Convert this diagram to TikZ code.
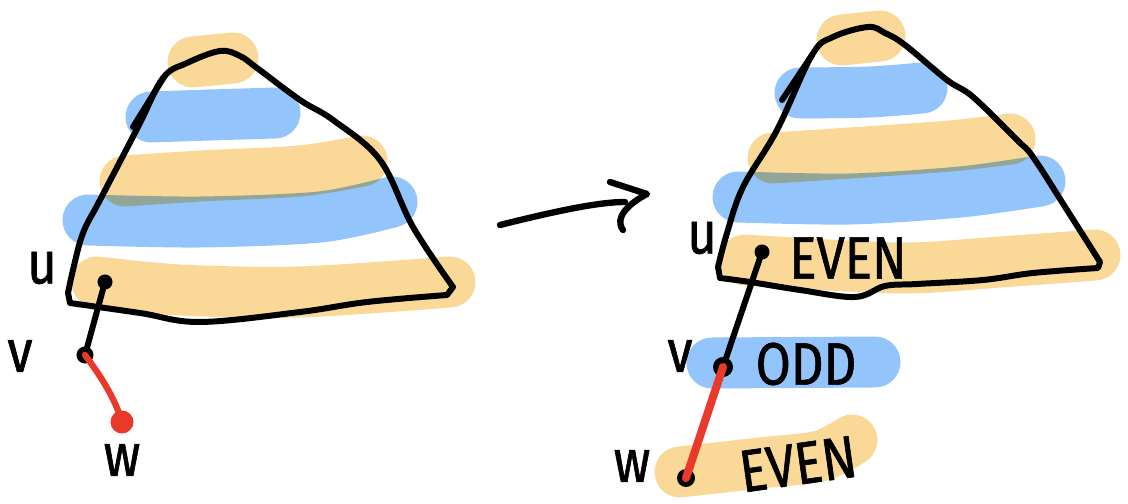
\documentclass[tikz,border=0pt]{standalone}
\usepackage{fontspec}
\setmainfont{Fira Sans}
\newfontfamily\handfont[FakeStretch=0.85,FakeBold=1]{Fira Sans}
\usetikzlibrary{arrows.meta}
\definecolor{evenorange}{HTML}{FAD898}
\definecolor{oddblue}{HTML}{94C4FC}
\definecolor{edgered}{HTML}{E8392A}
\tikzset{
  band/.style={line width=14.5pt, line cap=round, line join=round, blend mode=multiply},
  outline/.style={line width=1.7pt, line join=round, line cap=round},
  vertex/.style={circle, fill=black, inner sep=0pt, minimum size=0.15cm},
  word/.style={font=\handfont\fontsize{17}{17}\selectfont, inner sep=0pt},
}

\begin{document}
\begin{tikzpicture}[x=0.01cm,y=-0.01cm,line cap=round]
\useasboundingbox (0,0) rectangle (1128,504);
% levels, left tree
\draw[band,evenorange] (193,62) -- (233,58);
\draw[band,oddblue] plot[smooth] coordinates {(151,117) (210,115) (275,113)};
\draw[band,evenorange] plot[smooth] coordinates {(125,181) (200,176) (300,171) (362,161)};
\draw[band,oddblue] plot[smooth] coordinates {(88,220) (200,222) (320,217) (392,202)};
\draw[band,evenorange] plot[smooth] coordinates {(97,282) (180,290) (300,292) (450,282)};
% levels, right tree
\draw[band,evenorange] (842,40) -- (880,36);
\draw[band,oddblue] plot[smooth] coordinates {(800,93) (870,92) (922,88)};
\draw[band,evenorange] plot[smooth] coordinates {(773,158) (850,153) (950,146) (1010,139)};
\draw[band,oddblue] plot[smooth] coordinates {(738,197) (850,199) (960,192) (1040,181)};
\draw[band,evenorange] plot[smooth] coordinates {(745,260) (900,268) (1000,262) (1095,255)};
\draw[band,oddblue] (712,363) -- (875,362);
\draw[band,evenorange] plot[smooth] coordinates {(680,472) (760,463) (820,456) (852,440)};
% trees
\draw[outline] plot[smooth,tension=0.6] coordinates {(68,293) (73,270) (83,233) (100,200) (138,127) (163,78) (187,63) (220,51) (240,56) (257,68) (300,100) (333,120) (380,160) (413,227) (453,287)}
  -- plot[smooth,tension=0.6] coordinates {(447,295) (367,302) (300,312) (200,322) (140,313) (70,303)} -- cycle;
\draw[outline] (164,77) -- (133,127);
\draw[outline] plot[smooth,tension=0.6] coordinates {(718,267) (727,233) (743,187) (777,130) (812,55) (833,37) (868,27) (885,33) (905,45) (947,80) (973,97) (1017,140) (1033,157) (1067,210) (1100,262)}
  -- plot[smooth,tension=0.6] coordinates {(1098,268) (1033,273) (983,280) (917,284) (885,286) (855,297) (800,290) (750,282) (720,278)} -- cycle;
\draw[outline] (812,55) -- (782,100);
% left vertices
\node[vertex] (lu) at (105,282) {};
\node[vertex,minimum size=0.17cm] (lv) at (85,355) {};
\node[vertex,fill=edgered,minimum size=0.23cm] (lw) at (122,422) {};
\node[word] (lulabel) at (42,268) {u};
\node[word] (lvlabel) at (20,356) {v};
\node[word] (lwlabel) at (122,460) {w};
\draw[outline] (lu.center) -- (lv.center);
\draw[outline,edgered,line width=1.8pt] (lv.center) .. controls (100,375) and (115,398) .. (lw.center);
% arrow
\coordinate (arrowtail) at (500,225);
\coordinate (arrowtip) at (625,202);
\draw[line width=1.8pt] (arrowtail) .. controls (560,210) and (600,202) .. (arrowtip);
\draw[line width=1.8pt,line join=round] (610,182) -- (647,194) .. controls (628,204) and (614,218) .. (623,230);
% right vertices
\node[vertex] (ru) at (762,252) {};
\node[vertex,minimum size=0.2cm] (rv) at (723,367) {};
\node[vertex,minimum size=0.18cm] (rw) at (686,478) {};
\node[word] (rulabel) at (702,238) {u};
\node[word] (rvlabel) at (680,356) {v};
\node[word] (rwlabel) at (632,466) {w};
\node[word] (ueven) at (848,258) {EVEN};
\node[word] (vodd) at (806,364) {ODD};
\node[word,rotate=8] (weven) at (798,464) {EVEN};
\draw[outline] (ru.center) -- (rv.center);
\draw[outline,edgered,line width=2.3pt] (rv.center) -- (rw.center);
\end{tikzpicture}
\end{document}
